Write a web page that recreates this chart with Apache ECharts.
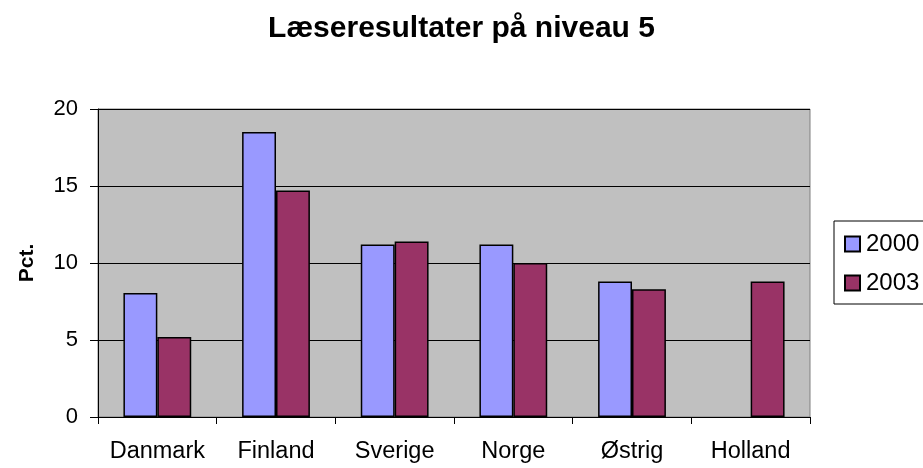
<!DOCTYPE html>
<html>
<head>
<meta charset="utf-8">
<script src="https://cdn.jsdelivr.net/npm/echarts@6/dist/echarts.min.js"></script>
<style>
  html, body { margin: 0; padding: 0; background: #ffffff; }
  #chart { width: 923px; height: 468px; }
</style>
</head>
<body>
<div id="chart"></div>
<script>
const titleText = "Læseresultater på niveau 5";
const yAxisName = "Pct.";
const categories = ["Danmark", "Finland", "Sverige", "Norge", "Østrig", "Holland"];
const seriesNames = ["2000", "2003"];
const values2000 = [8.05, 18.5, 11.2, 11.2, 8.8, null];
const values2003 = [5.2, 14.7, 11.4, 10.0, 8.3, 8.8];
const yTicks = [0, 5, 10, 15, 20];

const font = "'Liberation Sans', Arial, sans-serif";
const chart = echarts.init(document.getElementById('chart'), null, { renderer: 'canvas' });

chart.setOption({
  animation: false,
  backgroundColor: '#ffffff',
  title: {
    text: titleText,
    left: 'center',
    top: 9,
    textStyle: { fontFamily: font, fontSize: 30, fontWeight: 'bold', color: '#000' }
  },
  legend: {
    orient: 'vertical',
    left: 834,
    top: 221,
    padding: [11, 30, 9, 10],
    itemGap: 15,
    itemWidth: 15,
    itemHeight: 15,
    backgroundColor: '#ffffff',
    borderColor: '#000000',
    borderWidth: 1,
    borderRadius: 0,
    icon: 'rect',
    textStyle: { fontFamily: font, fontSize: 24, color: '#000', padding: [0, 0, 0, 1] },
    data: seriesNames
  },
  grid: {
    left: 98, right: 113, top: 109, bottom: 51,
    show: true,
    backgroundColor: '#c0c0c0',
    borderColor: '#808080',
    borderWidth: 1,
    containLabel: false
  },
  xAxis: {
    type: 'category',
    data: categories,
    axisLine: { lineStyle: { color: '#000', width: 1 } },
    axisTick: { show: true, length: 7, lineStyle: { color: '#000' } },
    axisLabel: { interval: 0, fontFamily: font, fontSize: 23.5, color: '#000', margin: 23 },
    splitLine: { show: false }
  },
  yAxis: {
    type: 'value',
    min: yTicks[0],
    max: yTicks[yTicks.length - 1],
    interval: 5,
    name: yAxisName,
    nameLocation: 'middle',
    nameGap: 60,
    nameTextStyle: { fontFamily: font, fontSize: 21, fontWeight: 'bold', color: '#000' },
    axisLine: { show: true, lineStyle: { color: '#000', width: 1 } },
    axisTick: { show: true, length: 8, lineStyle: { color: '#000' } },
    axisLabel: { fontFamily: font, fontSize: 22, color: '#000', margin: 20 },
    splitLine: { show: true, lineStyle: { color: '#000', width: 1 } }
  },
  series: [
    {
      name: seriesNames[0],
      type: 'bar',
      data: values2000,
      barGap: '0%',
      barCategoryGap: '42.86%',
      itemStyle: { color: '#9999ff', borderColor: '#000', borderWidth: 1.5 }
    },
    {
      name: seriesNames[1],
      type: 'bar',
      data: values2003,
      barGap: '0%',
      barCategoryGap: '42.86%',
      itemStyle: { color: '#993366', borderColor: '#000', borderWidth: 1.5 }
    }
  ]
});
</script>
</body>
</html>
